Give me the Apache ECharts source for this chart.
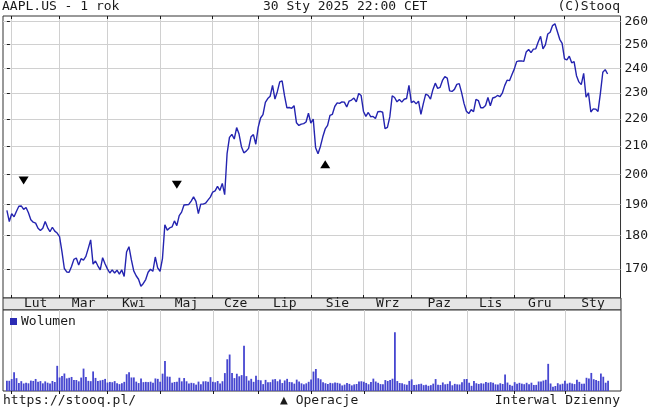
<!DOCTYPE html>
<html>
<head>
<meta charset="utf-8">
<script src="https://cdn.jsdelivr.net/npm/echarts@6/dist/echarts.min.js"></script>
<style>
  html, body { margin: 0; padding: 0; background: #fff; }
  #chart { width: 651px; height: 411px; }
</style>
</head>
<body>
<div id="chart"></div>
<script>
// AAPL.US, daily closes 30.01.2024 - 30.01.2025 (one entry per trading day)
const months = ['Lut', 'Mar', 'Kwi', 'Maj', 'Cze', 'Lip', 'Sie', 'Wrz', 'Paz', 'Lis', 'Gru', 'Sty']
// index of the first trading day of each month
const monthStart = [2, 22, 42, 64, 86, 105, 127, 149, 169, 192, 212, 233]
const priceTicks = [170, 180, 190, 200, 210, 220, 230, 240, 250, 260]

const close = [
  188.0, 184.4,
  186.9, 185.9, 187.7, 189.3, 189.4, 188.3, 188.9, 187.2, 185.0, 184.2,
  183.9, 182.3, 181.6, 182.3, 184.4, 182.5, 181.2, 182.6, 181.4, 180.8,
  179.7, 175.1, 170.1, 169.1, 169.0, 170.7, 172.8, 173.2, 171.1, 173.0,
  172.6, 173.7, 176.1, 178.7, 171.4, 172.3, 170.9, 169.7, 173.3, 171.5,
  170.0, 168.8, 169.7, 168.8, 169.6, 168.5, 169.7, 167.8, 175.0, 176.6, 172.7,
  169.4, 168.0, 167.0, 165.0, 165.8, 166.9, 169.0, 169.9, 169.3, 173.5, 170.3,
  169.3, 173.0, 183.4, 181.7, 182.4, 182.7, 184.6, 183.1, 186.3, 187.4, 189.7,
  189.8, 189.9, 191.0, 192.4, 190.9, 186.9, 190.0, 190.0, 190.3, 191.3, 192.3,
  194.0, 194.4, 195.9, 194.5, 196.9, 193.1, 207.2, 213.1, 214.2, 212.5,
  216.7, 214.3, 209.7, 207.5, 208.1, 209.1, 213.3, 214.1, 210.6,
  216.8, 220.3, 221.6, 226.3, 227.8, 228.7, 233.0, 227.6, 230.5, 234.4, 234.8,
  228.9, 224.2, 224.3, 224.0, 225.0, 218.5, 217.5, 218.0, 218.2, 218.8, 222.1,
  218.4, 219.9, 209.3, 207.2, 209.8, 213.3, 216.2, 217.5, 221.3, 221.7, 224.7,
  226.1, 225.9, 226.5, 226.4, 224.5, 226.8, 227.2, 228.0, 226.5, 229.8, 229.0,
  222.8, 220.9, 222.4, 220.8, 220.9, 220.1, 222.7, 222.8, 222.5, 216.3,
  216.8, 220.7, 228.9, 228.2, 226.5, 227.4, 226.4, 227.5, 227.8, 233.0,
  226.2, 226.8, 225.7, 226.8, 221.7, 225.8, 229.5, 229.0, 227.6, 231.3, 233.9, 231.8,
  232.2, 235.0, 236.5, 235.9, 230.8, 230.6, 231.4, 233.4, 233.7, 230.1, 225.9,
  222.9, 222.0, 223.5, 222.7, 227.5, 227.0, 224.2, 224.2, 225.1, 228.2,
  225.0, 228.0, 228.3, 229.0, 228.5, 229.9, 232.9, 235.1, 234.9, 237.3,
  239.6, 242.7, 243.0, 243.0, 242.8, 246.8, 247.8, 246.5, 248.0, 248.1, 251.0,
  253.5, 248.1, 249.8, 254.5, 255.3, 258.2, 259.0, 255.6, 252.2, 250.4,
  243.9, 243.4, 245.0, 242.2, 242.7, 236.9, 234.4, 233.3, 237.9, 228.3,
  230.0, 222.6, 223.8, 223.7, 222.8, 229.9, 238.3, 239.4, 237.6
]

// daily volume, millions of shares
const volume = [
  55.9, 55.5,
  64.9, 102.5, 69.7, 43.5, 53.4, 40.9, 45.2, 41.8, 56.5, 54.6,
  65.4, 49.8, 53.7, 41.5, 52.3, 45.1, 40.9, 54.3, 48.9, 136.7,
  73.5, 81.5, 95.1, 68.6, 71.8, 76.3, 60.1, 59.8, 52.5, 72.9,
  121.7, 75.6, 55.2, 53.4, 106.2, 71.1, 54.3, 57.4, 60.3, 65.7,
  46.2, 49.3, 47.7, 53.7, 42.1, 37.4, 42.4, 49.7, 91.1, 101.6, 73.5,
  73.7, 50.9, 43.1, 67.8, 48.1, 49.5, 48.3, 50.6, 44.8, 68.2, 65.9,
  50.4, 94.2, 163.2, 78.6, 77.3, 45.1, 48.9, 50.8, 72.0, 52.4, 70.4,
  52.8, 41.3, 44.4, 42.3, 34.6, 51.0, 36.3, 52.3, 53.1, 49.9, 75.2,
  50.1, 47.5, 54.2, 41.2, 53.1, 97.3, 172.4, 198.1, 97.9, 70.1,
  93.7, 79.9, 86.2, 246.4, 80.7, 56.7, 66.2, 49.8, 82.5,
  60.4, 58.0, 37.4, 60.4, 48.2, 48.1, 62.6, 64.7, 53.0, 62.6, 43.2,
  57.3, 66.0, 49.2, 48.2, 39.9, 61.8, 51.4, 41.6, 36.3, 41.6, 50.0,
  62.5, 105.6, 119.5, 69.4, 63.5, 47.2, 42.2, 38.0, 44.2, 41.9, 46.4,
  44.3, 40.7, 30.3, 34.8, 43.7, 38.7, 30.6, 35.9, 38.1, 51.9, 52.9,
  50.2, 43.8, 36.6, 48.4, 67.2, 51.6, 44.6, 37.5, 36.8, 59.4,
  54.3, 59.9, 66.8, 318.7, 54.1, 43.6, 42.3, 36.6, 34.0, 54.8,
  63.3, 32.9, 34.0, 37.2, 39.5, 31.9, 33.6, 28.2, 31.8, 39.9, 64.8, 34.1,
  32.9, 46.4, 36.3, 38.8, 52.3, 31.1, 38.8, 36.1, 35.4, 47.1, 64.4,
  65.3, 44.9, 28.1, 54.6, 42.1, 38.3, 42.0, 40.4, 48.6, 44.9,
  47.9, 44.7, 36.2, 35.2, 42.1, 38.2, 90.2, 45.9, 33.5, 28.5,
  48.1, 38.9, 44.4, 40.0, 36.9, 44.6, 36.9, 45.2, 32.8, 33.2, 51.7,
  51.4, 56.8, 60.9, 147.5, 40.9, 23.2, 27.2, 42.4, 35.6, 39.5,
  55.7, 40.2, 45.0, 40.9, 37.6, 61.7, 49.6, 39.4, 39.8, 71.8,
  68.5, 98.1, 64.1, 60.2, 54.7, 94.9, 77.5, 45.0, 55.7
]

// "Operacje" markers (day index, price level)
const opsDownDay = [7, 71]
const opsDownLevel = [197.9, 196.4]
const opsUpDay = [133]
const opsUpLevel = [203.5]

const xMin = -1.63
const xMax = 256.4
const mono = 'DejaVu Sans Mono'
const ink = '#1a1a1a'
const gridColor = '#d0d0d0'

// month labels sit halfway between the month lines
const monthMid = monthStart.map((s, i) => (s + (i < monthStart.length - 1 ? monthStart[i + 1] : xMax)) / 2)

const pricePts = close.map((v, i) => [i, v])
const volPts = volume.map((v, i) => [i, v])
const downPts = opsDownDay.map((d, i) => [d, opsDownLevel[i]])
const upPts = opsUpDay.map((d, i) => [d, opsUpLevel[i]])

const monthAxis = (gridIndex, position, showGrid) => ({
  type: 'value',
  gridIndex,
  position,
  min: xMin,
  max: xMax,
  axisLine: { show: false },
  axisTick: { show: true, inside: true, length: 3, customValues: monthStart, lineStyle: { color: ink } },
  axisLabel: { show: false },
  splitLine: { show: showGrid, lineStyle: { color: gridColor, width: 1 } }
})

const chart = echarts.init(document.getElementById('chart'), null, { renderer: 'canvas' })

chart.setOption({
  animation: false,
  backgroundColor: '#ffffff',
  textStyle: { fontFamily: mono },
  grid: [
    { left: 3, right: 30, top: 16, height: 282, show: true, backgroundColor: '#fff', borderColor: '#333', borderWidth: 1 },
    { left: 3, right: 30, top: 298, height: 12, show: true, backgroundColor: '#e6e6e6', borderColor: '#333', borderWidth: 1 },
    { left: 3, right: 30, top: 310, height: 81, show: true, backgroundColor: '#fff', borderColor: '#333', borderWidth: 1 }
  ],
  xAxis: [
    monthAxis(0, 'bottom', true),
    monthAxis(0, 'top', false),
    {
      type: 'value',
      gridIndex: 1,
      position: 'bottom',
      min: xMin,
      max: xMax,
      axisLine: { show: false },
      axisTick: { show: false },
      splitLine: { show: false },
      axisLabel: {
        customValues: monthMid,
        margin: -6,
        verticalAlign: 'middle',
        color: ink,
        fontFamily: mono,
        fontSize: 13,
        formatter: (v) => months[monthMid.findIndex(m => Math.abs(m - v) < 0.01)]
      }
    },
    monthAxis(2, 'top', true)
  ],
  yAxis: [
    {
      type: 'log',
      logBase: 10,
      gridIndex: 0,
      position: 'right',
      min: 161.7,
      max: 262.5,
      axisLine: { show: false },
      axisTick: { show: true, length: 3, customValues: priceTicks, lineStyle: { color: ink } },
      axisLabel: { customValues: priceTicks, margin: 4, color: ink, fontFamily: mono, fontSize: 13 },
      splitLine: { show: true, lineStyle: { color: gridColor, width: 1 } }
    },
    { type: 'value', gridIndex: 1, show: false },
    { type: 'value', gridIndex: 2, min: 0, max: 440, show: false }
  ],
  legend: {
    left: 10,
    top: 315,
    padding: 0,
    itemWidth: 7,
    itemHeight: 7,
    itemGap: 4,
    icon: 'rect',
    textStyle: { fontFamily: mono, fontSize: 13, color: ink, padding: [0, 0, 0, -1] },
    data: [{ name: 'Wolumen', itemStyle: { color: '#2b2bb4' } }]
  },
  series: [
    {
      name: 'Kurs',
      type: 'line',
      xAxisIndex: 0,
      yAxisIndex: 0,
      data: pricePts,
      showSymbol: false,
      lineStyle: { color: '#2424b0', width: 1.4 },
      z: 5
    },
    {
      name: 'Op down',
      type: 'scatter',
      xAxisIndex: 0,
      yAxisIndex: 0,
      data: downPts,
      symbol: 'triangle',
      symbolRotate: 180,
      symbolSize: [10, 8],
      itemStyle: { color: '#000', opacity: 1 }
    },
    {
      name: 'Op up',
      type: 'scatter',
      xAxisIndex: 0,
      yAxisIndex: 0,
      data: upPts,
      symbol: 'triangle',
      symbolSize: [10, 8],
      itemStyle: { color: '#000', opacity: 1 }
    },
    {
      name: 'Wolumen',
      type: 'bar',
      xAxisIndex: 3,
      yAxisIndex: 2,
      data: volPts,
      barWidth: 1.8,
      itemStyle: { color: '#4646d0' }
    }
  ],
  graphic: [
    { type: 'text', left: 2, top: 0, style: { text: 'AAPL.US - 1 rok', font: '13px "DejaVu Sans Mono"', fill: ink } },
    { type: 'text', left: 263, top: 0, style: { text: '30 Sty 2025 22:00 CET', font: '13px "DejaVu Sans Mono"', fill: ink } },
    { type: 'text', right: 31, top: 0, style: { text: '(C)Stooq', font: '13px "DejaVu Sans Mono"', fill: ink } },
    { type: 'text', left: 3, top: 394, style: { text: 'https://stooq.pl/', font: '13px "DejaVu Sans Mono"', fill: ink } },
    { type: 'text', left: 280, top: 394, style: { text: '\u25B2 Operacje', font: '13px "DejaVu Sans Mono"', fill: ink } },
    { type: 'text', right: 31, top: 394, style: { text: 'Interwal Dzienny', font: '13px "DejaVu Sans Mono"', fill: ink } }
  ]
})
</script>
</body>
</html>
